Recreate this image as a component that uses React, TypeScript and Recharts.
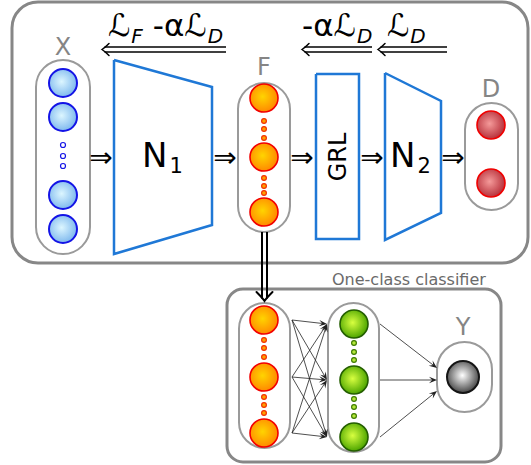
import React from "react"
import { ScatterChart, Scatter, XAxis, YAxis, ReferenceArea, ReferenceLine } from "recharts"

const W = 531
const H = 465
const FONT = "DejaVu Sans"
const BLUE = "#1f78d6"

// frames and capsules (x1, y1, x2, y2 in picture units)
const frames = [
  { x1: 12, y1: 2, x2: 528, y2: 263, r: 26 },
  { x1: 227, y1: 289, x2: 501, y2: 462, r: 16 },
]
const capsules = [
  { x1: 36, y1: 60, x2: 90, y2: 254 },
  { x1: 238, y1: 83, x2: 290, y2: 232 },
  { x1: 465, y1: 103, x2: 518, y2: 210 },
  { x1: 239, y1: 303, x2: 290, y2: 448 },
  { x1: 328, y1: 303, x2: 379, y2: 452 },
  { x1: 437, y1: 342, x2: 492, y2: 412 },
]

// network blocks
const n1Block = [
  { x: 114, y: 60 }, { x: 212, y: 87 }, { x: 212, y: 225 }, { x: 114, y: 254 }, { x: 114, y: 60 },
]
const grlBlock = [
  { x: 316, y: 74 }, { x: 359, y: 74 }, { x: 359, y: 239 }, { x: 316, y: 239 }, { x: 316, y: 74 },
]
const n2Block = [
  { x: 385, y: 73 }, { x: 441, y: 101 }, { x: 441, y: 213 }, { x: 385, y: 240 }, { x: 385, y: 73 },
]

// neurons
const xNodes = [{ x: 63, y: 83 }, { x: 63, y: 117 }, { x: 63, y: 195 }, { x: 63, y: 229 }]
const xDots = [{ x: 63, y: 145 }, { x: 63, y: 156 }, { x: 63, y: 166 }]
const fNodes = [{ x: 264, y: 98 }, { x: 264, y: 157 }, { x: 264, y: 212 }]
const fDots = [121, 129, 138, 178, 186, 193].map((y) => ({ x: 264, y }))
const dNodes = [{ x: 491, y: 125 }, { x: 491, y: 183 }]
const ocNodes = [{ x: 264, y: 320 }, { x: 264, y: 377 }, { x: 264, y: 433 }]
const ocDots = [340, 348, 357, 397, 405, 413].map((y) => ({ x: 264, y }))
const gNodes = [{ x: 354, y: 324 }, { x: 354, y: 380 }, { x: 354, y: 437 }]
const gDots = [343, 352, 360, 399, 407, 416].map((y) => ({ x: 354, y }))
const yNodes = [{ x: 463, y: 377 }]
const yTargets = [368, 380, 391]

// text
const letters = [
  { x: 63, y: 55, text: "X" },
  { x: 264, y: 75, text: "F" },
  { x: 491, y: 97, text: "D" },
  { x: 463, y: 335, text: "Y" },
]
const blockNames = [
  { x: 142, y: 167, name: "N", sub: "1" },
  { x: 390, y: 167, name: "N", sub: "2" },
]
const grlName = [{ x: 338, y: 157, text: "GRL" }]
const implies = [
  { x: 101, y: 157 }, { x: 225, y: 157 }, { x: 302, y: 157 }, { x: 372, y: 157 }, { x: 453, y: 157 },
]
const lossTerms = [
  { x: 108, y: 36, parts: [{ t: "ℒ", s: "F" }, { t: " -αℒ", s: "D" }] },
  { x: 302, y: 36, parts: [{ t: "-αℒ", s: "D" }] },
  { x: 387, y: 36, parts: [{ t: "ℒ", s: "D" }] },
]
const lossArrows = [
  { from: 226, to: 102, y: 49.5 },
  { from: 372, to: 302, y: 49.5 },
  { from: 447, to: 378, y: 49.5 },
]
const featureArrow = { x: 264.5, from: 232, to: 301 }
const caption = [{ x: 332, y: 285, text: "One-class classifier" }]

const hiddenLinks = ocNodes.flatMap((a) =>
  gNodes.map((b) => ({ x1: capsules[3].x2 + 2, y1: a.y, x2: capsules[4].x1 - 1, y2: b.y }))
)
const outLinks = gNodes.map((g, i) => ({
  x1: capsules[4].x2 + 1,
  y1: g.y,
  x2: capsules[5].x1,
  y2: yTargets[i],
}))

const none = () => <g />

const node = (grad: string, stroke: string, r = 14, sw = 1.6) => (p: any) =>
  <circle cx={p.cx} cy={p.cy} r={r} fill={`url(#${grad})`} stroke={stroke} strokeWidth={sw} />

const dot = (fill: string, stroke: string, r = 2.4) => (p: any) =>
  <circle cx={p.cx} cy={p.cy} r={r} fill={fill} stroke={stroke} strokeWidth={1.2} />

function ThinArrow(p: any) {
  const { x1, y1, x2, y2 } = p
  const a = Math.atan2(y2 - y1, x2 - x1)
  const c = Math.cos(a)
  const s = Math.sin(a)
  const L = 8
  const w = 3.2
  const bx = x2 - L * c
  const by = y2 - L * s
  const nx = x2 - L * 0.6 * c
  const ny = y2 - L * 0.6 * s
  const d = `M${x2},${y2} L${bx - w * s},${by + w * c} L${nx},${ny} L${bx + w * s},${by - w * c} Z`
  return (
    <g>
      <line x1={x1} y1={y1} x2={nx} y2={ny} stroke="#222" strokeWidth={0.8} />
      <path d={d} fill="#222" />
    </g>
  )
}

const doubleArrow = (gap: number, sw: number, L: number, spread: number) => (p: any) => {
  const { x1, y1, x2, y2 } = p
  const len = Math.hypot(x2 - x1, y2 - y1)
  const ux = (x2 - x1) / len
  const uy = (y2 - y1) / len
  const nx = -uy
  const ny = ux
  const ex = x2 - ux * 2.5
  const ey = y2 - uy * 2.5
  const h = gap / 2
  const ax = x2 - ux * L
  const ay = y2 - uy * L
  return (
    <g fill="none" stroke="#000" strokeWidth={sw}>
      <line x1={x1 + nx * h} y1={y1 + ny * h} x2={ex + nx * h} y2={ey + ny * h} />
      <line x1={x1 - nx * h} y1={y1 - ny * h} x2={ex - nx * h} y2={ey - ny * h} />
      <path
        d={`M${ax + nx * spread},${ay + ny * spread} Q${x2 - ux * 3 + nx * 2},${y2 - uy * 3 + ny * 2} ${x2},${y2} Q${x2 - ux * 3 - nx * 2},${y2 - uy * 3 - ny * 2} ${ax - nx * spread},${ay - ny * spread}`}
        strokeLinecap="round"
      />
    </g>
  )
}

const letterShape = (p: any) => (
  <text x={p.cx} y={p.cy} textAnchor="middle" fontFamily={FONT} fontSize={24} fill="#858585">
    {p.payload.text}
  </text>
)

const blockNameShape = (p: any) => (
  <text x={p.cx} y={p.cy} fontFamily={FONT} fontSize={34} fill="#000">
    <tspan>{p.payload.name}</tspan>
    <tspan dx={2} dy={6} fontSize={21}>{p.payload.sub}</tspan>
  </text>
)

const grlShape = (p: any) => (
  <text
    x={p.cx}
    y={p.cy}
    textAnchor="middle"
    dominantBaseline="central"
    fontFamily={FONT}
    fontSize={24}
    fill="#000"
    transform={`rotate(-90 ${p.cx} ${p.cy})`}
  >
    {p.payload.text}
  </text>
)

const impliesShape = (p: any) => (
  <text x={p.cx} y={p.cy} textAnchor="middle" dominantBaseline="central" fontFamily={FONT} fontSize={28} fill="#000">
    ⇒
  </text>
)

const lossShape = (p: any) => (
  <text x={p.cx} y={p.cy} fontFamily={FONT} fontSize={31} fill="#000" style={{ whiteSpace: "pre" }}>
    {p.payload.parts.map((q: any, i: number) => [
      <tspan key={"m" + i} dy={i ? -7 : 0}>{q.t}</tspan>,
      <tspan key={"s" + i} dx={1} dy={7} fontSize={20} fontStyle="italic">{q.s}</tspan>,
    ])}
  </text>
)

const captionShape = (p: any) => (
  <text x={p.cx} y={p.cy} fontFamily={FONT} fontSize={16} fill="#6a6a6a">
    {p.payload.text}
  </text>
)

export default function App() {
  return (
    <div style={{ position: "absolute", left: 0, top: 0, width: W, height: H, background: "#fff" }}>
      <svg width={0} height={0} style={{ position: "absolute" }}>
        <defs>
          <radialGradient id="gBlue" cx="45%" cy="45%" r="55%">
            <stop offset="0%" stopColor="#dcf6ff" />
            <stop offset="100%" stopColor="#7fb9ee" />
          </radialGradient>
          <radialGradient id="gOrange" cx="45%" cy="45%" r="55%">
            <stop offset="0%" stopColor="#ffd400" />
            <stop offset="100%" stopColor="#ff8a00" />
          </radialGradient>
          <radialGradient id="gRed" cx="45%" cy="45%" r="55%">
            <stop offset="0%" stopColor="#f49a9a" />
            <stop offset="100%" stopColor="#b8323c" />
          </radialGradient>
          <radialGradient id="gGreen" cx="45%" cy="45%" r="55%">
            <stop offset="0%" stopColor="#d8ff40" />
            <stop offset="100%" stopColor="#4ea600" />
          </radialGradient>
          <radialGradient id="gGray" cx="48%" cy="45%" r="55%">
            <stop offset="0%" stopColor="#ffffff" />
            <stop offset="100%" stopColor="#444444" />
          </radialGradient>
        </defs>
      </svg>
      <ScatterChart width={W} height={H} margin={{ top: 0, right: 0, bottom: 0, left: 0 }}>
        <XAxis type="number" dataKey="x" domain={[0, W]} allowDataOverflow hide />
        <YAxis type="number" dataKey="y" domain={[0, H]} allowDataOverflow reversed hide />

        {frames.map((f, i) => (
          <ReferenceArea
            key={"f" + i}
            x1={f.x1}
            x2={f.x2}
            y1={f.y1}
            y2={f.y2}
            ifOverflow="visible"
            shape={(p: any) => (
              <rect x={p.x} y={p.y} width={p.width} height={p.height} rx={f.r} fill="none" stroke="#878787" strokeWidth={3} />
            )}
          />
        ))}
        {capsules.map((c, i) => (
          <ReferenceArea
            key={"c" + i}
            x1={c.x1}
            x2={c.x2}
            y1={c.y1}
            y2={c.y2}
            ifOverflow="visible"
            shape={(p: any) => (
              <rect
                x={p.x}
                y={p.y}
                width={p.width}
                height={p.height}
                rx={p.width / 2}
                fill="#fff"
                stroke="#9a9a9a"
                strokeWidth={2}
              />
            )}
          />
        ))}

        {lossArrows.map((a, i) => (
          <ReferenceLine
            key={"l" + i}
            segment={[{ x: a.from, y: a.y }, { x: a.to, y: a.y }]}
            ifOverflow="visible"
            shape={doubleArrow(5, 1.5, 7, 6)}
          />
        ))}
        <ReferenceLine
          segment={[{ x: featureArrow.x, y: featureArrow.from }, { x: featureArrow.x, y: featureArrow.to }]}
          ifOverflow="visible"
          shape={doubleArrow(5, 2, 9, 8)}
        />
        {[...hiddenLinks, ...outLinks].map((l, i) => (
          <ReferenceLine
            key={"h" + i}
            segment={[{ x: l.x1, y: l.y1 }, { x: l.x2, y: l.y2 }]}
            ifOverflow="visible"
            shape={ThinArrow}
          />
        ))}

        {[n1Block, grlBlock, n2Block].map((b, i) => (
          <Scatter
            key={"b" + i}
            data={b}
            line={{ stroke: BLUE, strokeWidth: 2.5, strokeLinejoin: "miter" }}
            lineType="joint"
            shape={none}
            isAnimationActive={false}
          />
        ))}

        <Scatter data={xNodes} shape={node("gBlue", "#1414e6", 14, 2)} isAnimationActive={false} />
        <Scatter data={xDots} shape={dot("#fff", "#1414e6", 2.5)} isAnimationActive={false} />
        <Scatter data={fNodes} shape={node("gOrange", "#f20000")} isAnimationActive={false} />
        <Scatter data={fDots} shape={dot("#ffa000", "#f23000")} isAnimationActive={false} />
        <Scatter data={dNodes} shape={node("gRed", "#f00000")} isAnimationActive={false} />
        <Scatter data={ocNodes} shape={node("gOrange", "#f20000")} isAnimationActive={false} />
        <Scatter data={ocDots} shape={dot("#ffa000", "#f23000")} isAnimationActive={false} />
        <Scatter data={gNodes} shape={node("gGreen", "#245e00")} isAnimationActive={false} />
        <Scatter data={gDots} shape={dot("#b4e83a", "#3d7a00")} isAnimationActive={false} />
        <Scatter data={yNodes} shape={node("gGray", "#151515", 16, 2)} isAnimationActive={false} />

        <Scatter data={letters} shape={letterShape} isAnimationActive={false} />
        <Scatter data={blockNames} shape={blockNameShape} isAnimationActive={false} />
        <Scatter data={grlName} shape={grlShape} isAnimationActive={false} />
        <Scatter data={implies} shape={impliesShape} isAnimationActive={false} />
        <Scatter data={lossTerms} shape={lossShape} isAnimationActive={false} />
        <Scatter data={caption} shape={captionShape} isAnimationActive={false} />
      </ScatterChart>
    </div>
  )
}
